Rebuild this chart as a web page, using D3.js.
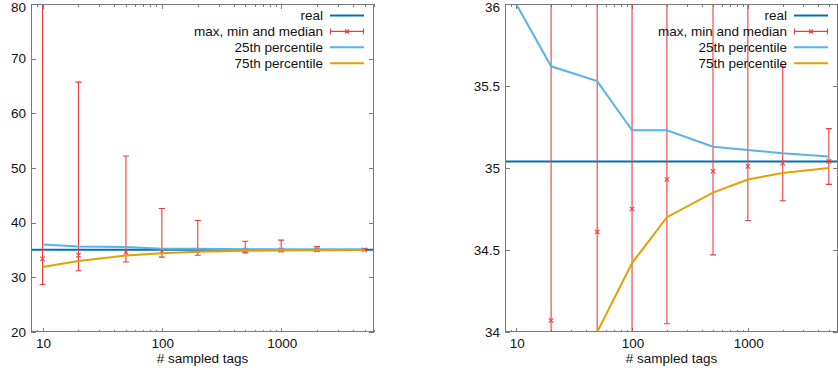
<!DOCTYPE html>
<html>
<head>
<meta charset="utf-8">
<script src="https://cdn.jsdelivr.net/npm/d3@7"></script>
<style>
  body { margin: 0; background: #fff; }
  text { font-family: "Liberation Sans", Arial, sans-serif; font-size: 13.5px; fill: #111; }
</style>
</head>
<body>
<svg id="chart" width="838" height="375"></svg>
<script>
(function() {

  // ---------- data
  var sampleSizes = [10, 20, 50, 100, 200, 500, 1000, 2000, 5000];
  var realValue = 35.04;
  var medianValues = [33.37, 34.07, 34.61, 34.75, 34.93, 34.98, 35.01, 35.03, 35.04];
  var maxValues = [88, 65.7, 52.2, 42.6, 40.4, 36.6, 36.8, 35.62, 35.24];
  var minValues = [28.7, 31.2, 32.8, 33.7, 34.05, 34.47, 34.68, 34.80, 34.90];
  var p25Values = [36.0, 35.62, 35.53, 35.23, 35.23, 35.13, 35.11, 35.09, 35.07];
  var p75Values = [31.9, 33.0, 34.0, 34.42, 34.70, 34.85, 34.93, 34.97, 35.0];
  var xTickValues = [10, 100, 1000];
  var legendLabels = ['real', 'max, min and median', '25th percentile', '75th percentile'];
  var xLabel = '# sampled tags';

  var colors = {
    real: '#0072b2',
    err: '#f03c3c',
    p25: '#56b4e9',
    p75: '#e69f00',
    border: '#7a7a7a'
  };

  var svg = d3.select('#chart');

  var points = sampleSizes.map(function(x, i) {
    return { x: x, med: medianValues[i], max: maxValues[i], min: minValues[i], p25: p25Values[i], p75: p75Values[i] };
  });

  // ----------
  function drawPanel(config) {
    var left = config.left, right = config.right, top = config.top, bottom = config.bottom;

    var x = d3.scaleLog().domain([8, 6000]).range([left, right]);
    var y = d3.scaleLinear().domain(config.yDomain).range([bottom, top]);
    var yLo = config.yDomain[0], yHi = config.yDomain[1];

    var g = svg.append('g');

    var clipId = 'clip-' + config.id;
    g.append('clipPath').attr('id', clipId)
      .append('rect')
      .attr('x', left).attr('y', top)
      .attr('width', right - left).attr('height', bottom - top);

    // ticks (inward, mirrored)
    var minorTicks = [];
    [1, 10, 100, 1000].forEach(function(d) {
      for (var k = 2; k < 10; k++) {
        var v = d * k;
        if (v >= 8 && v <= 6000) minorTicks.push(v);
      }
    });

    var tickG = g.append('g').attr('stroke', colors.border).attr('stroke-width', 1).attr('shape-rendering', 'crispEdges');

    tickG.selectAll('.xminor').data(minorTicks).enter().append('path')
      .attr('d', function(d) {
        var px = Math.round(x(d)) + 0.5;
        return 'M' + px + ',' + bottom + 'v-2.5M' + px + ',' + top + 'v2.5';
      });

    tickG.selectAll('.xmajor').data(xTickValues).enter().append('path')
      .attr('d', function(d) {
        var px = Math.round(x(d)) + 0.5;
        return 'M' + px + ',' + bottom + 'v-4.5M' + px + ',' + top + 'v4.5';
      });

    var yTicks = config.yTicks;
    tickG.selectAll('.ymajor').data(yTicks).enter().append('path')
      .attr('d', function(d) {
        var py = Math.round(y(d)) + 0.5;
        return 'M' + left + ',' + py + 'h5M' + right + ',' + py + 'h-5';
      });

    // tick labels
    g.selectAll('.xlabel').data(xTickValues).enter().append('text')
      .attr('x', function(d) { return x(d) + 1; })
      .attr('y', bottom + 16)
      .attr('text-anchor', 'middle')
      .text(function(d) { return d; });

    g.selectAll('.ylabel').data(yTicks).enter().append('text')
      .attr('x', left - 5)
      .attr('y', function(d) { return Math.max(y(d), top + 3); })
      .attr('dy', '0.35em')
      .attr('text-anchor', 'end')
      .text(config.yFormat);

    g.append('text')
      .attr('x', (left + right) / 2)
      .attr('y', bottom + 31)
      .attr('text-anchor', 'middle')
      .text(xLabel);

    // marks
    var plot = g.append('g').attr('clip-path', 'url(#' + clipId + ')');

    plot.append('line')
      .attr('x1', left).attr('x2', right)
      .attr('y1', y(realValue)).attr('y2', y(realValue))
      .attr('stroke', colors.real).attr('stroke-width', 2);

    // gnuplot skips an error bar whose centre point is out of range
    var shown = points.filter(function(d) { return d.med >= yLo && d.med <= yHi; });

    // keep very long bars inside a sane pixel range
    function yc(v) { return Math.max(top - 5, Math.min(bottom + 5, y(v))); }

    var bars = plot.append('g').attr('stroke', colors.err).attr('stroke-width', 1.1).attr('fill', 'none');
    bars.selectAll('path.bar').data(shown).enter().append('path')
      .attr('class', 'bar')
      .attr('d', function(d) {
        var px = x(d.x);
        var y1 = yc(d.max), y0 = yc(d.min);
        return 'M' + px + ',' + y1 + 'V' + y0 +
          'M' + (px - 3) + ',' + y1 + 'h6' +
          'M' + (px - 3) + ',' + y0 + 'h6';
      });
    bars.selectAll('path.marker').data(shown).enter().append('path')
      .attr('class', 'marker')
      .attr('d', function(d) {
        var px = x(d.x), py = y(d.med), s = 2.2;
        return 'M' + (px - s) + ',' + (py - s) + 'L' + (px + s) + ',' + (py + s) +
          'M' + (px - s) + ',' + (py + s) + 'L' + (px + s) + ',' + (py - s);
      });

    var line25 = d3.line().x(function(d) { return x(d.x); }).y(function(d) { return y(d.p25); });
    var line75 = d3.line().x(function(d) { return x(d.x); }).y(function(d) { return y(d.p75); });

    plot.append('path').datum(points)
      .attr('d', line25).attr('fill', 'none')
      .attr('stroke', colors.p25).attr('stroke-width', 2);

    plot.append('path').datum(points)
      .attr('d', line75).attr('fill', 'none')
      .attr('stroke', colors.p75).attr('stroke-width', 2);

    // border
    g.append('rect')
      .attr('x', left + 0.5).attr('y', top + 0.5)
      .attr('width', right - left - 1).attr('height', bottom - top - 1)
      .attr('fill', 'none').attr('stroke', colors.border).attr('stroke-width', 1)
      .attr('shape-rendering', 'crispEdges');

    // legend
    var sx0 = right - 44, sx1 = right - 10;
    legendLabels.forEach(function(label, i) {
      var ly = top + 11.5 + i * 15.9;
      g.append('text')
        .attr('x', right - 51)
        .attr('y', ly)
        .attr('dy', '0.35em')
        .attr('text-anchor', 'end')
        .text(label);

      if (i === 1) {
        var py = ly, cx = (sx0 + sx1) / 2;
        g.append('path')
          .attr('d', 'M' + sx0 + ',' + py + 'H' + sx1 +
            'M' + (sx0 + 0.5) + ',' + (py - 3) + 'v6' +
            'M' + (sx1 - 0.5) + ',' + (py - 3) + 'v6' +
            'M' + (cx - 2) + ',' + (py - 2) + 'l4,4M' + (cx - 2) + ',' + (py + 2) + 'l4,-4')
          .attr('stroke', colors.err).attr('stroke-width', 1.1).attr('fill', 'none');
      } else {
        var c = i === 0 ? colors.real : (i === 2 ? colors.p25 : colors.p75);
        g.append('line')
          .attr('x1', sx0).attr('x2', sx1)
          .attr('y1', ly).attr('y2', ly)
          .attr('stroke', c).attr('stroke-width', 2);
      }
    });
  }

  // ----------
  drawPanel({
    id: 'left',
    left: 31, right: 374, top: 4, bottom: 332,
    yDomain: [20, 80],
    yTicks: [20, 30, 40, 50, 60, 70, 80],
    yFormat: function(d) { return d; }
  });

  drawPanel({
    id: 'right',
    left: 505, right: 838, top: 4, bottom: 332,
    yDomain: [34, 36],
    yTicks: [34, 34.5, 35, 35.5, 36],
    yFormat: function(d) { return d; }
  });

})();
</script>
</body>
</html>
